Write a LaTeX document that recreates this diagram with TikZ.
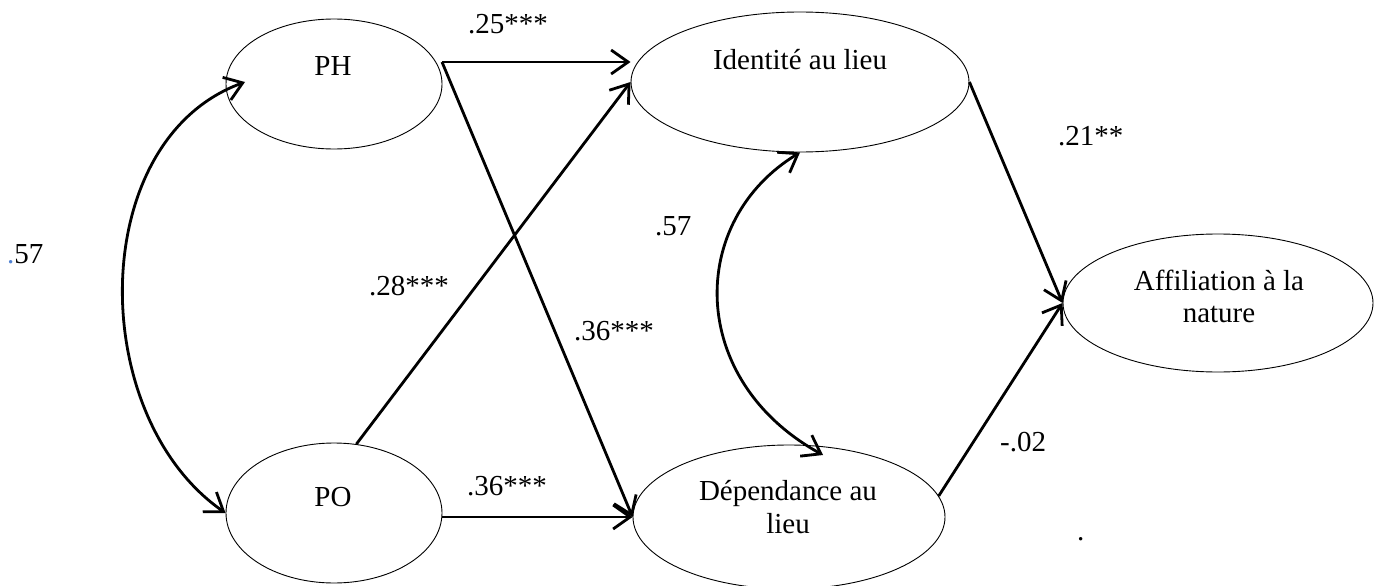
\documentclass[tikz,border=0pt]{standalone}
\usepackage{fontspec}
\setmainfont{Liberation Serif}
\usetikzlibrary{arrows.meta,shapes.geometric}
\definecolor{dotblue}{RGB}{80,130,210}
\begin{document}
\begin{tikzpicture}[x=1pt,y=-1pt,
  ell/.style={draw,ellipse,line width=0.9pt,inner sep=0pt},
  txt/.style={font=\fontsize{29}{33}\selectfont,inner sep=0pt,anchor=base},
  lab/.style={font=\fontsize{29}{33}\selectfont,inner sep=0pt,anchor=base west},
  arr/.style={line width=2.8pt,-{Straight Barb[length=17pt,width=24pt]}},
  cov/.style={line width=2.8pt,{Straight Barb[length=17pt,width=24pt]}-{Straight Barb[length=17pt,width=24pt]}}]
\useasboundingbox (0,0) rectangle (1382,586);
% ellipses
\node[ell,minimum width=216pt,minimum height=130pt] (PH) at (334,84) {};
\node[ell,minimum width=216pt,minimum height=140pt] (PO) at (334,513) {};
\node[ell,minimum width=338pt,minimum height=140pt] (ID) at (800,82) {};
\node[ell,minimum width=312pt,minimum height=144pt] (DE) at (789,517) {};
\node[ell,minimum width=310pt,minimum height=138pt] (AF) at (1218,303) {};
% texts
\node[txt] (tPH) at (333,76) {PH};
\node[txt] (tPO) at (333,506) {PO};
\node[txt] (tID) at (800,70) {Identité au lieu};
\node[txt] (tDE1) at (788,500) {Dépendance au};
\node[txt] (tDE2) at (788,533) {lieu};
\node[txt] (tAF1) at (1219,290) {Affiliation à la};
\node[txt] (tAF2) at (1219,322) {nature};
% coordinates
\coordinate (PHout) at (442,62);
\coordinate (PHin) at (245,82);
\coordinate (DEin) at (823,455);
% paths
\draw[arr] (PHout) -- (ID.west |- PHout);
\draw[arr] (PHout) -- (DE.west);
\draw[arr] (PO.72) -- (ID.west);
\draw[arr] (PO.east |- DE.west) -- (DE.west);
\draw[arr] (ID.east) -- (AF.west);
\draw[arr] (DE.8) -- (AF.west);
% covariances
\draw[cov] (PHin) .. controls (86,140) and (86,416) .. (PO.west);
\draw[cov] (ID.south) .. controls (687,221) and (687,380) .. (DEin);
% labels
\node[lab] (l25) at (468,34) {.25***};
\node[lab] (l21) at (1058,145) {.21**};
\node[lab] (l57b) at (655,235) {.57};
\node[lab] (l28) at (369,295) {.28***};
\node[lab] (l36a) at (574,340) {.36***};
\node[lab] (l36b) at (467,495) {.36***};
\node[lab] (l02) at (1000,451) {-.02};
\node[lab] (l57a) at (7,263) {\textcolor{dotblue}{.}57};
\node[lab] (ldot) at (1077,540) {.};
\end{tikzpicture}
\end{document}
